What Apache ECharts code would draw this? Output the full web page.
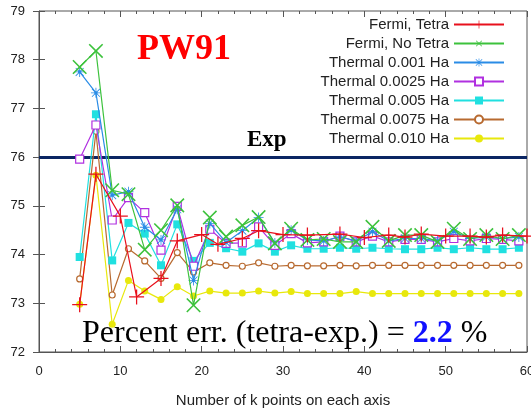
<!DOCTYPE html>
<html>
<head>
<meta charset="utf-8">
<script src="https://cdn.jsdelivr.net/npm/echarts@6/dist/echarts.min.js"></script>
<style>html,body{margin:0;padding:0;background:#fff}#c{width:531px;height:411px}</style>
</head>
<body>
<div id="c"></div>
<script>
// ---- data ----
const kOdd = [5,7,9,11,13,15,17,19,21,23,25,27,29,31,33,35,37,39,41,43,45,47,49,51,53,55,57,59];
const kTetra = [5,7,10,12,15,17,20,22,25,27,30,33,37,40,43,45,47,50,53,55,57,60];
const fermiTetra = [72.97,75.65,74.79,73.13,73.51,74.28,74.41,74.21,74.33,74.49,74.41,74.40,74.42,74.35,74.40,74.36,74.42,74.38,74.38,74.36,74.40,74.38];
const fermiNoTetra = [77.85,78.18,75.32,75.24,74.10,74.50,75.01,72.96,74.76,74.37,74.60,74.77,74.23,74.53,74.30,74.32,74.26,74.26,74.57,74.28,74.40,74.40,74.26,74.53,74.32,74.40,74.32,74.40];
const th0010 = [77.75,77.32,75.22,75.29,74.56,74.30,74.93,73.47,74.64,74.25,74.49,74.76,74.24,74.50,74.30,74.28,74.36,74.28,74.47,74.28,74.33,74.33,74.28,74.47,74.33,74.36,74.33,74.36];
const th0025 = [75.96,76.66,74.71,75.17,74.86,74.09,74.99,73.76,74.52,74.23,74.24,74.57,74.19,74.43,74.24,74.26,74.38,74.26,74.38,74.26,74.31,74.31,74.26,74.33,74.28,74.33,74.31,74.28];
const th0050 = [73.95,76.88,73.88,74.65,74.43,73.78,74.62,73.87,74.24,74.13,74.06,74.23,74.06,74.19,74.12,74.12,74.14,74.12,74.14,74.12,74.11,74.11,74.14,74.11,74.14,74.11,74.11,74.14];
const th0075 = [73.50,76.53,73.17,74.12,73.87,73.51,74.04,73.64,73.83,73.78,73.76,73.83,73.76,73.78,73.77,73.77,73.78,73.77,73.78,73.78,73.78,73.78,73.78,73.78,73.78,73.78,73.78,73.78];
const th0100 = [72.98,75.63,72.57,73.47,73.25,73.08,73.34,73.15,73.25,73.21,73.21,73.25,73.21,73.24,73.20,73.20,73.20,73.24,73.20,73.20,73.20,73.20,73.20,73.20,73.20,73.20,73.20,73.20];
const seriesNames = ['Fermi, Tetra','Fermi, No Tetra','Thermal 0.001 Ha','Thermal 0.0025 Ha','Thermal 0.005 Ha','Thermal 0.0075 Ha','Thermal 0.010 Ha'];
const expValue = 76;
const xTicks = [0,10,20,30,40,50,60];
const yTicks = [72,73,74,75,76,77,78,79];
const pctErr = '2.2';

// ---- chart ----
const pairs = (xs, ys) => xs.map((x, i) => [x, ys[i]]);
const PLUS = 'path://M5.5,0h1v5.5h5.5v1h-5.5v5.5h-1v-5.5h-5.5v-1h5.5z';
const STAR = 'path://M5.5,0h1v12h-1zM0,5.5h12v1h-12zM1.6,0.9L11.1,10.4L10.4,11.1L0.9,1.6zM10.4,0.9L11.1,1.6L1.6,11.1L0.9,10.4zM4,4h4v4h-4z';
const colors = ['#e8101c','#3cc23c','#2a8ce6','#b030e0','#20e0e0','#b86a30','#e8e80c'];

function mk(i, data, symbol, size, extra) {
  return Object.assign({
    name: seriesNames[i], type: 'line', data: data,
    symbol: symbol, symbolSize: size, showSymbol: true,
    lineStyle: { width: 1.2, color: colors[i] },
    itemStyle: { color: colors[i] },
    emphasis: { disabled: true },
    animation: false, z: 10 - i
  }, extra || {});
}

const series = [
  mk(0, pairs(kTetra, fermiTetra), PLUS, 15),
  mk(1, pairs(kOdd, fermiNoTetra), PLUS, 19, { symbolRotate: 45 }),
  mk(2, pairs(kOdd, th0010), STAR, 10),
  mk(3, pairs(kOdd, th0025), 'rect', 8, { itemStyle: { color: '#fff', borderColor: colors[3], borderWidth: 1.2 } }),
  mk(4, pairs(kOdd, th0050), 'rect', 8),
  mk(5, pairs(kOdd, th0075), 'circle', 6, { itemStyle: { color: '#fff', borderColor: colors[5], borderWidth: 1.2 } }),
  mk(6, pairs(kOdd, th0100), 'circle', 7),
];
series[0].markLine = {
  silent: true, symbol: ['none','none'], animation: false,
  label: { show: false },
  lineStyle: { color: '#0b2663', width: 3, type: 'solid' },
  data: [{ yAxis: expValue }]
};

const chart = echarts.init(document.getElementById('c'), null, { renderer: 'canvas' });
chart.setOption({
  animation: false,
  backgroundColor: '#fff',
  grid: { left: 39, right: 4, top: 11, bottom: 59, show: true, borderColor: '#555', borderWidth: 1,
          containLabel: false, outerBoundsMode: 'none' },
  legend: {
    data: seriesNames, orient: 'vertical', right: 21, top: 12, align: 'right',
    itemWidth: 50, itemHeight: 10, itemGap: 4,
    textStyle: { fontFamily: 'Liberation Sans, Arial, sans-serif', fontSize: 15, color: '#222', lineHeight: 15 }
  },
  xAxis: [{
    type: 'value', min: 0, max: 60, interval: 10,
    name: 'Number of k points on each axis', nameLocation: 'middle', nameGap: 41,
    nameTextStyle: { fontFamily: 'Liberation Sans, Arial, sans-serif', fontSize: 15, color: '#222' },
    axisLine: { show: true, lineStyle: { color: '#555' } },
    axisTick: { show: true, inside: true, length: 6, lineStyle: { color: '#555' } },
    minorTick: { show: true, splitNumber: 5, length: 3, lineStyle: { color: '#555' } },
    axisLabel: { margin: 13, fontFamily: 'Liberation Sans, Arial, sans-serif', fontSize: 13, color: '#222',
      formatter: v => xTicks.includes(v) ? String(v) : '' },
    splitLine: { show: false }
  }, {
    type: 'value', min: 0, max: 60, interval: 10, position: 'top',
    axisLine: { show: false },
    axisTick: { show: true, inside: true, length: 6, lineStyle: { color: '#555' } },
    minorTick: { show: true, splitNumber: 5, length: 3, lineStyle: { color: '#555' } },
    axisLabel: { show: false }, splitLine: { show: false }
  }],
  yAxis: [{
    type: 'value', min: 72, max: 79, interval: 1,
    axisLine: { show: true, lineStyle: { color: '#555' } },
    axisTick: { show: true, inside: true, length: 6, lineStyle: { color: '#555' } },
    axisLabel: { margin: 14, fontFamily: 'Liberation Sans, Arial, sans-serif', fontSize: 13, color: '#222',
      formatter: v => yTicks.includes(v) ? String(v) : '' },
    splitLine: { show: false }
  }, {
    type: 'value', min: 72, max: 79, interval: 1, position: 'right',
    axisLine: { show: false },
    axisTick: { show: true, inside: true, length: 6, lineStyle: { color: '#555' } },
    axisLabel: { show: false }, splitLine: { show: false }
  }],
  graphic: [
    { type: 'text', left: 137, top: 32, z: 100,
      style: { text: 'PW91', font: 'bold 36px "Liberation Serif", "Times New Roman", serif', fill: '#ff0000' } },
    { type: 'text', left: 247, top: 129, z: 100,
      style: { text: 'Exp', font: 'bold 23px "Liberation Serif", "Times New Roman", serif', fill: '#000' } },
    { type: 'text', left: 82, top: 318, z: 100,
      style: {
        text: '{a|Percent err. (tetra-exp.) = }{b|' + pctErr + '}{a| %}',
        rich: {
          a: { font: '32px "Liberation Serif", "Times New Roman", serif', fill: '#000' },
          b: { font: 'bold 32px "Liberation Serif", "Times New Roman", serif', fill: '#1010ff' }
        }
      } }
  ],
  series: series
});
</script>
</body>
</html>
